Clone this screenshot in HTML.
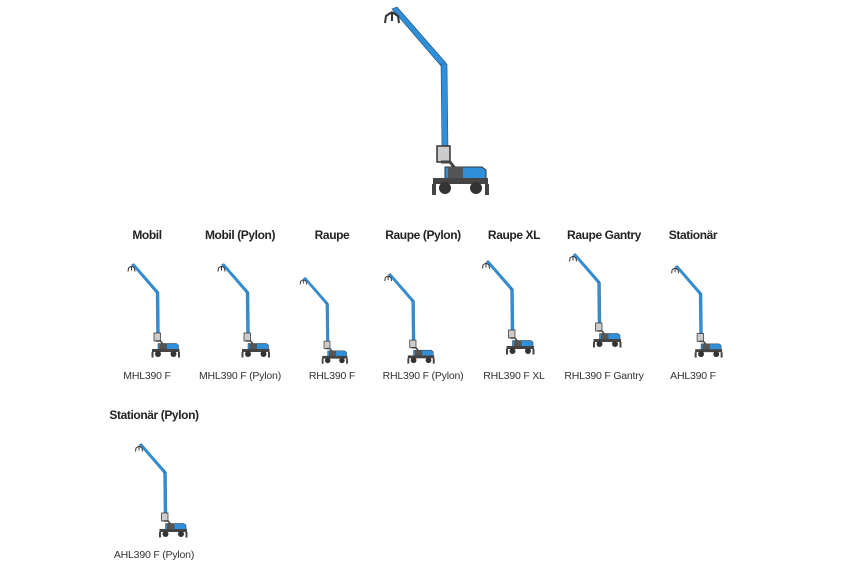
<!DOCTYPE html>
<html><head><style>
html,body{margin:0;padding:0;background:#fff;}
body{width:850px;height:565px;position:relative;overflow:hidden;font-family:"Liberation Sans",sans-serif;}
.h{position:absolute;font-weight:bold;font-size:12px;letter-spacing:-0.4px;color:#222;text-align:center;width:120px;}
.l{position:absolute;font-size:10.5px;letter-spacing:-0.2px;color:#333;text-align:center;width:120px;}
svg{position:absolute;left:0;top:0;}
</style></head><body>
<svg width="850" height="565" viewBox="0 0 850 565">
<defs>
<g id="m">
  <path d="M392 9 L397 7 L446 63 L442 67 Z" fill="#2f8fd8" stroke="#1b4f80" stroke-width="0.6"/>
  <path d="M441 64 L447 64 L448 150 L442 150 Z" fill="#2f8fd8" stroke="#1b4f80" stroke-width="0.6"/>
  <path d="M392 12 L386 16 L385 23 M392 12 L398 16 L399 23 M392 12 L392 21" stroke="#333" stroke-width="2" fill="none"/>
  <rect x="437" y="146" width="13" height="16" fill="#ccc" stroke="#333" stroke-width="1.5"/>
  <path d="M441 162 L450 162 L458 172" stroke="#444" stroke-width="3" fill="none"/>
  <path d="M445 167 L482 167 L486 170 L486 180 L445 180 Z" fill="#2f8fd8" stroke="#333"/>
  <rect x="448" y="167" width="15" height="13" fill="#555"/>
  <rect x="433" y="178" width="55" height="6" fill="#444"/>
  <circle cx="445" cy="188" r="6" fill="#333"/>
  <circle cx="476" cy="188" r="6" fill="#333"/>
  <rect x="432" y="184" width="4" height="11" fill="#444"/>
  <rect x="485" y="184" width="4" height="11" fill="#444"/>
</g>
</defs>
<use href="#m"/>
<use href="#m" transform="translate(-64.5,260) scale(0.5)"/>
<use href="#m" transform="translate(25.5,260) scale(0.5)"/>
<use href="#m" transform="translate(123,274) scale(0.46)"/>
<use href="#m" transform="translate(200,270) scale(0.48)"/>
<use href="#m" transform="translate(290,257) scale(0.5)"/>
<use href="#m" transform="translate(377,250) scale(0.5)"/>
<use href="#m" transform="translate(483,262) scale(0.49)"/>
<use href="#m" transform="translate(-57,440) scale(0.5)"/>
</svg>
<div class="h" style="left:87px;top:228px">Mobil</div>
<div class="h" style="left:180px;top:228px">Mobil (Pylon)</div>
<div class="h" style="left:272px;top:228px">Raupe</div>
<div class="h" style="left:363px;top:228px">Raupe (Pylon)</div>
<div class="h" style="left:454px;top:228px">Raupe XL</div>
<div class="h" style="left:544px;top:228px">Raupe Gantry</div>
<div class="h" style="left:633px;top:228px">Stationär</div>
<div class="h" style="left:94px;top:408px">Stationär (Pylon)</div>
<div class="l" style="left:87px;top:370px">MHL390 F</div>
<div class="l" style="left:180px;top:370px">MHL390 F (Pylon)</div>
<div class="l" style="left:272px;top:370px">RHL390 F</div>
<div class="l" style="left:363px;top:370px">RHL390 F (Pylon)</div>
<div class="l" style="left:454px;top:370px">RHL390 F XL</div>
<div class="l" style="left:544px;top:370px">RHL390 F Gantry</div>
<div class="l" style="left:633px;top:370px">AHL390 F</div>
<div class="l" style="left:94px;top:549px">AHL390 F (Pylon)</div>
</body></html>
